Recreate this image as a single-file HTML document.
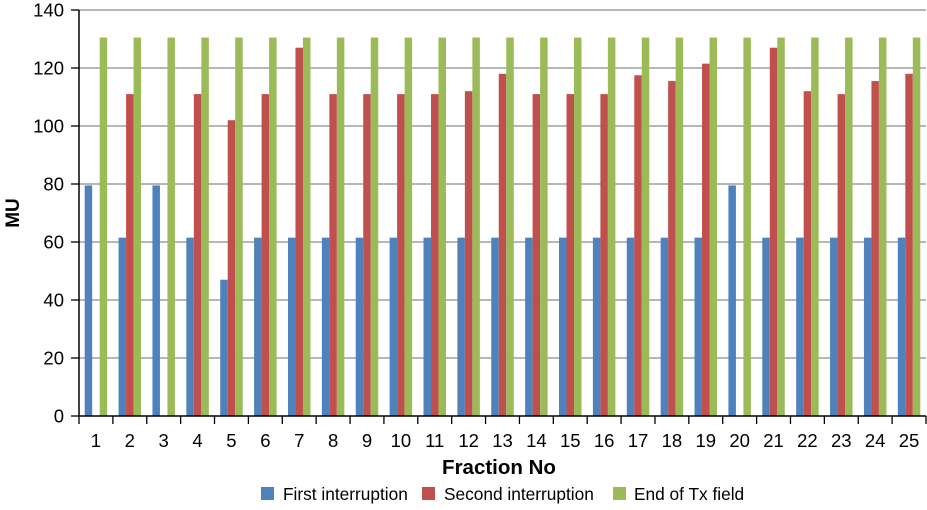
<!DOCTYPE html>
<html><head><meta charset="utf-8"><style>
body{margin:0;background:#fff;font-family:"Liberation Sans",Arial,sans-serif}
svg text{font-family:"Liberation Sans",Arial,sans-serif}
</style></head><body>
<svg id="chart" width="927" height="505" xmlns="http://www.w3.org/2000/svg">
<g id="grid"></g>
<g id="bars"></g>
<g id="axes"></g>
<text x="0" y="0" transform="translate(19,213) rotate(-90)" text-anchor="middle" font-size="19" font-weight="bold">MU</text>
<text x="499" y="474" text-anchor="middle" font-size="20.5" font-weight="bold">Fraction No</text>
<g font-size="17.3">
<g><rect x="261" y="487" width="13" height="13" fill="#4f81bd"/><text x="283" y="500">First interruption</text></g>
<g><rect x="422" y="487" width="13" height="13" fill="#c0504d"/><text x="444" y="500">Second interruption</text></g>
<g><rect x="613" y="487" width="13" height="13" fill="#9bbb59"/><text x="634" y="500">End of Tx field</text></g>
</g>
</svg>
<script>
const categories=["1","2","3","4","5","6","7","8","9","10","11","12","13","14","15","16","17","18","19","20","21","22","23","24","25"];
const firstInterruption=[79.5,61.5,79.5,61.5,47,61.5,61.5,61.5,61.5,61.5,61.5,61.5,61.5,61.5,61.5,61.5,61.5,61.5,61.5,79.5,61.5,61.5,61.5,61.5,61.5];
const secondInterruption=[0,111,0,111,102,111,127,111,111,111,111,112,118,111,111,111,117.5,115.5,121.5,0,127,112,111,115.5,118];
const endOfTx=[130.5,130.5,130.5,130.5,130.5,130.5,130.5,130.5,130.5,130.5,130.5,130.5,130.5,130.5,130.5,130.5,130.5,130.5,130.5,130.5,130.5,130.5,130.5,130.5,130.5];
const yTicks=[0,20,40,60,80,100,120,140];
const NS="http://www.w3.org/2000/svg";
const X0=79,X1=926,Y0=416,Y1=10,YMAX=140;
const cw=(X1-X0)/categories.length;
const y=v=>Y0-(v/YMAX)*(Y0-Y1);
const xc=i=>X0+cw*(i+0.5);
function mk(t,a,p){const e=document.createElementNS(NS,t);for(const k in a)e.setAttribute(k,a[k]);p.appendChild(e);return e;}
const grid=document.getElementById('grid'),bars=document.getElementById('bars'),axes=document.getElementById('axes');
yTicks.forEach(v=>{
 if(v>0){const l=mk('line',{x1:X0,x2:X1,y1:y(v),y2:y(v),stroke:'#8c8c8c','stroke-width':1.2},grid);
 
 }
 const t=mk('line',{x1:X0-8,x2:X0,y1:y(v),y2:y(v),stroke:'#000','stroke-width':1.3},axes);
 
 
 const tx=mk('text',{x:X0-15,y:y(v)+6.5,'text-anchor':'end','font-size':18.5},axes);tx.textContent=v;
 
 
});
const series=[[firstInterruption,'#4f81bd'],[secondInterruption,'#c0504d'],[endOfTx,'#9bbb59']];
const bw=7.5;
categories.forEach((c,i)=>{
 series.forEach((s,j)=>{
  const v=s[0][i];if(v<=0)return;
  const r=mk('rect',{x:xc(i)-1.5*bw+j*bw,y:y(v),width:bw,height:Y0-y(v),fill:s[1]},bars);
  
  
 });
 const tx=mk('text',{x:xc(i),y:447,'text-anchor':'middle','font-size':18.5},axes);tx.textContent=c;
 
 
});
for(let i=0;i<=categories.length;i++){
 const t=mk('line',{x1:X0+cw*i,x2:X0+cw*i,y1:Y0,y2:Y0+8,stroke:'#000','stroke-width':1.3},axes);
 
 
}
const ya=mk('line',{x1:X0,x2:X0,y1:Y1,y2:Y0,stroke:'#000','stroke-width':1.5},axes);


const xa=mk('line',{x1:X0,x2:X1,y1:Y0,y2:Y0,stroke:'#000','stroke-width':1.5},axes);


</script>
</body></html>
